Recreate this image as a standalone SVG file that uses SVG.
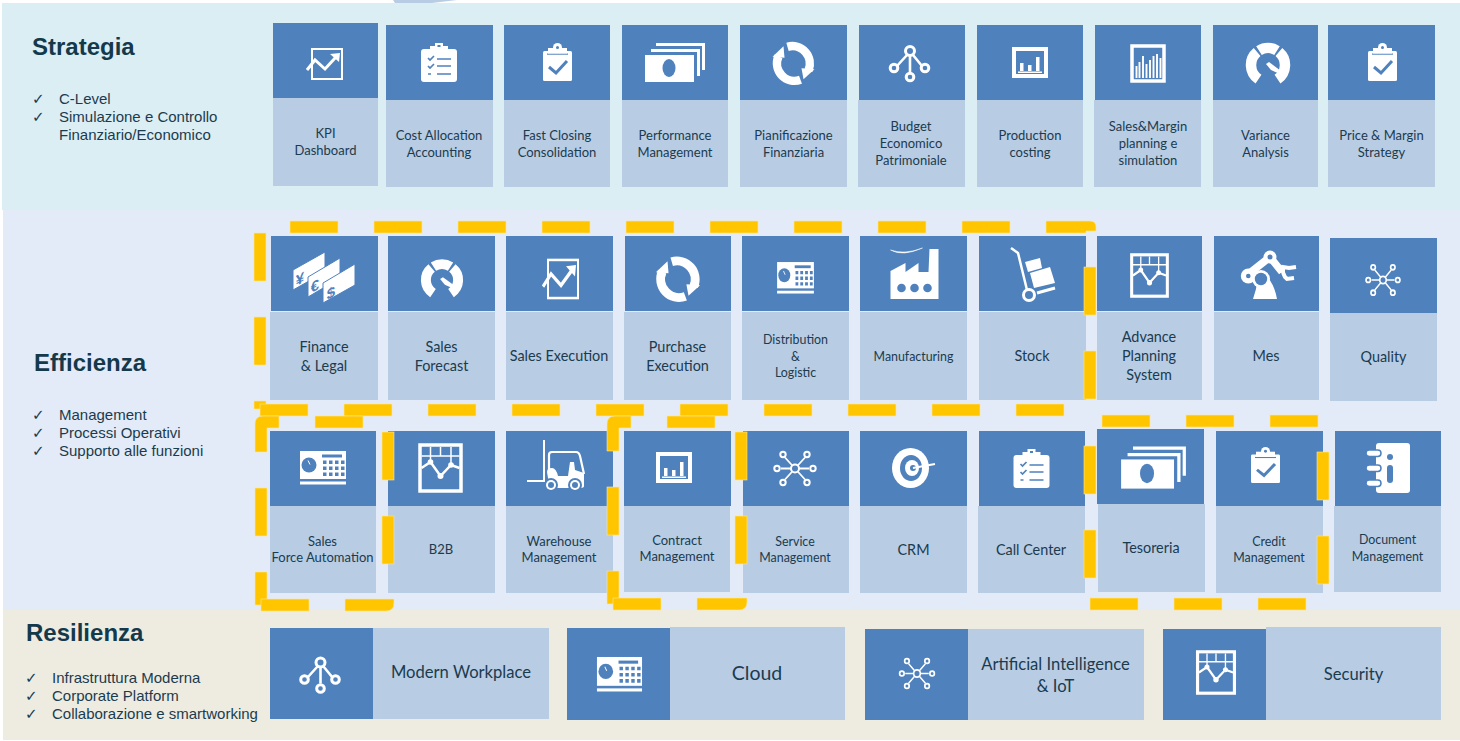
<svg xmlns="http://www.w3.org/2000/svg" xmlns:xlink="http://www.w3.org/1999/xlink" width="1460" height="741" viewBox="0 0 1460 741">
<style>
.h{fill:#4F81BD}.b{fill:#B8CCE4}
.d{fill:#FFC600;stroke:#FBE59A;stroke-width:.6}
text{fill:#1B3B4E}
.k{font-family:"Liberation Sans",Arial,sans-serif;font-weight:700;fill:#14394B}
.l{font-family:"Liberation Sans",Arial,sans-serif;font-size:15px}
.c{font-family:"DejaVu Sans",sans-serif;font-size:15px}
.t{font-family:Lato,"Open Sans",sans-serif;text-anchor:middle;font-size:13px}
.m{font-size:14.4px}.s{font-size:12.4px}.n{font-size:16.6px}.g{font-size:19.5px}
.w{fill:#fff}.u{fill:#4F81BD}
.ws{fill:none;stroke:#fff}.us{fill:none;stroke:#4F81BD}
.ic{font-family:"Liberation Sans",Arial,sans-serif;font-weight:700;font-size:15px;fill:#4F81BD;text-anchor:middle}
</style>
<defs>
<g id="i-chart"><rect class="ws" x="-12" y="-15" width="30" height="30" stroke-width="2"/><polyline class="ws" points="-17,6 -9,-4 1,5 12,-7" stroke-width="3"/><polygon class="w" points="6,-10 16,-11 15,-2"/></g>
<g id="i-cliplist"><rect class="w" x="-18" y="-14" width="36" height="33" rx="3"/><rect class="w" x="-9" y="-17" width="18" height="6"/><rect class="w" x="-4" y="-20" width="8" height="6"/><rect class="u" x="-1.5" y="-18" width="3" height="2"/><path class="us" d="M-2-4H12M-2 3H12M-2 11H12M-11-5l2 2 4-4M-11 3l2 2 4-4M-11 11h3" stroke-width="1.7"/></g>
<g id="i-clipcheck"><rect class="w" x="-15" y="-11" width="29" height="30" rx="1.5"/><rect class="u" x="-11" y="-8.500" width="21" height="1.200"/><rect class="w" x="-10" y="-14" width="19" height="5.500"/><circle class="w" cx="-.5" cy="-14.500" r="4.500"/><circle class="u" cx="-.5" cy="-14.500" r="1.500"/><polyline class="us" points="-9,5 -2,11 9,-1" stroke-width="3"/></g>
<g id="i-money"><path class="ws" d="M-19-17.500H28.500V8M-24-11.500H23.500V14" stroke-width="3"/><rect class="u" x="-31" y="-8" width="51" height="29"/><rect class="w" x="-30" y="-7" width="49" height="27"/><ellipse class="u" cx="-6" cy="6" rx="6.500" ry="9"/></g>
<g id="i-refresh"><path class="ws" d="M-6-16.500A17.500 17.500 0 0 1 15 7" stroke-width="8.500"/><polygon class="w" points="8,5 21,6 10,16"/><path class="ws" d="M7 16.500A17.500 17.500 0 0 1-15-7" stroke-width="8.500"/><polygon class="w" points="-21,-6.500 -9,-5.500 -10,-17"/></g>
<g id="i-tree"><path class="ws" d="M-3-8-13 3M3-8 12 3M0-7V9" stroke-width="2.600"/><g fill="#4F81BD" stroke="#fff" stroke-width="3"><circle cx="0" cy="-12" r="4.500"/><circle cx="-16" cy="5" r="3.800"/><circle cx="15" cy="5" r="3.800"/><circle cx="0" cy="14" r="3.800"/></g></g>
<g id="i-bars"><rect class="ws" x="-16" y="-13" width="32" height="27" stroke-width="4"/><path class="w" d="M-10 1h3.500v8h-3.500zM-2 3h3.500v6h-3.500zM6-5h3.500v14h-3.500zM-12 9.500h24v1.500h-24z"/></g>
<g id="i-dense"><rect class="ws" x="-16" y="-17" width="32" height="35" stroke-width="3.500"/><path class="ws" d="M-11.500 15V3M-8.500 15V-1M-5 15V-7M-1.500 15V1M2 15V-3M5.500 15V-7M9 15V-9M12.500 15V-5" stroke-width="1.900"/></g>
<g id="i-gauge"><path class="ws" d="M-10.900-13A17 17 0 0 0-9.500 14.100M-9-14.400A17 17 0 0 1 9-14.400M10.900-13A17 17 0 0 1 9.500 14.100" stroke-width="10.500"/><polygon class="w" points="-2,-1 1,-3 17,9 16,11 3,5"/></g>
<g id="i-calc"><rect class="w" x="-23" y="-17.500" width="46" height="28"/><rect class="w" x="-23" y="13" width="46" height="3"/><circle class="u" cx="-14" cy="-3.500" r="7.500"/><path class="ws" d="M-15-8-13-4" stroke-width="1"/><rect class="u" x="-1" y="-14" width="20" height="3"/><path class="u" d="M0-8h3.500v3.500h-3.500zM6-8h3.500v3.500h-3.500zM12-8h3.500v3.500h-3.500zM18-8h3.500v3.500h-3.500zM0-2h3.500v3.500h-3.500zM6-2h3.500v3.500h-3.500zM12-2h3.500v3.500h-3.500zM18-2h3.500v3.500h-3.500zM0 4h3.500v3.500h-3.500zM6 4h3.500v3.500h-3.500zM12 4h3.500v3.500h-3.500zM18 4h3.500v3.500h-3.500z"/></g>
<g id="i-grid"><rect class="ws" x="-20.500" y="-23" width="41" height="46" stroke-width="3.500"/><path class="ws" d="M-19-12H19M-10-21V-6M0-21V-12M10.500-21V-3" stroke-width="1.500"/><polyline class="ws" points="-19,0 -10,-6 0,8 10.500,-3 19,0" stroke-width="2.500"/><circle class="w" cx="-10" cy="-6" r="2.800"/><circle class="w" cx="0" cy="8" r="3"/><circle class="w" cx="10.500" cy="-3" r="2.800"/></g>
<g id="i-hub"><path class="ws" d="M-14 0H14M-10-11 10 11M10-11-10 11" stroke-width="1.800"/><g fill="#4F81BD" stroke="#fff" stroke-width="2"><circle cx="0" cy="0" r="4"/><circle cx="-18" cy="0" r="2.700"/><circle cx="18" cy="0" r="2.700"/><circle cx="-12" cy="-14" r="2.700"/><circle cx="12" cy="-14" r="2.700"/><circle cx="-12" cy="14" r="2.700"/><circle cx="12" cy="14" r="2.700"/></g></g>
</defs>

<g id="bands">
<polygon class="b" points="393,0 457,0 432,3 395,3"/>
<rect x="2" y="3" width="1458" height="207" fill="#DBEEF4"/>
<rect x="3" y="210" width="1457" height="400" fill="#E3EBF8"/>
<rect x="3" y="610" width="1457" height="130" fill="#EEECE1"/>
</g>

<g id="section-strategia">
<text class="k" x="32" y="55" font-size="24">Strategia</text>
<text class="c" x="32" y="104">✓</text><text class="l" x="59" y="104">C-Level</text>
<text class="c" x="32" y="122">✓</text><text class="l" x="59" y="122">Simulazione e Controllo</text>
<text class="l" x="59" y="140">Finanziario/Economico</text>
</g>
<g id="section-efficienza">
<text class="k" x="34" y="371" font-size="24">Efficienza</text>
<text class="c" x="32" y="420">✓</text><text class="l" x="59" y="420">Management</text>
<text class="c" x="32" y="438">✓</text><text class="l" x="59" y="438">Processi Operativi</text>
<text class="c" x="32" y="456">✓</text><text class="l" x="59" y="456">Supporto alle funzioni</text>
</g>
<g id="section-resilienza">
<text class="k" x="26" y="641" font-size="24">Resilienza</text>
<text class="c" x="25" y="683">✓</text><text class="l" x="52" y="683">Infrastruttura Moderna</text>
<text class="c" x="25" y="701">✓</text><text class="l" x="52" y="701">Corporate Platform</text>
<text class="c" x="25" y="719">✓</text><text class="l" x="52" y="719">Collaborazione e smartworking</text>
</g>

<g id="kpi-dashboard"><rect class="h" x="273" y="23" width="105" height="75"/><rect class="b" x="273" y="98" width="105" height="88"/><use href="#i-chart" transform="translate(324 64)"/><text class="t" x="325.500" y="138">KPI</text><text class="t" x="325.500" y="155">Dashboard</text></g>
<g id="cost-allocation"><rect class="h" x="386" y="25" width="107" height="75"/><rect class="b" x="386" y="100" width="107" height="87"/><use href="#i-cliplist" transform="translate(439 63)"/><text class="t" x="439" y="140">Cost Allocation</text><text class="t" x="439" y="157">Accounting</text></g>
<g id="fast-closing"><rect class="h" x="504" y="25" width="106" height="75"/><rect class="b" x="504" y="100" width="106" height="87"/><use href="#i-clipcheck" transform="translate(558 62)"/><text class="t" x="557" y="140">Fast Closing</text><text class="t" x="557" y="157">Consolidation</text></g>
<g id="performance"><rect class="h" x="622" y="25" width="106" height="75"/><rect class="b" x="622" y="100" width="106" height="87"/><use href="#i-money" transform="translate(675 62)"/><text class="t" x="675" y="140">Performance</text><text class="t" x="675" y="157">Management</text></g>
<g id="pianificazione"><rect class="h" x="740" y="25" width="107" height="75"/><rect class="b" x="740" y="100" width="107" height="87"/><use href="#i-refresh" transform="translate(793.500 63.300)"/><text class="t" x="793.500" y="140">Pianificazione</text><text class="t" x="793.500" y="157">Finanziaria</text></g>
<g id="budget"><rect class="h" x="859" y="25" width="106" height="75"/><rect class="b" x="858" y="100" width="107" height="87"/><use href="#i-tree" transform="translate(910 63)"/><text class="t" x="911" y="131">Budget</text><text class="t" x="911" y="148">Economico</text><text class="t" x="911" y="165">Patrimoniale</text></g>
<g id="production-costing"><rect class="h" x="977" y="25" width="106" height="75"/><rect class="b" x="977" y="100" width="106" height="87"/><use href="#i-bars" transform="translate(1030 62)"/><text class="t" x="1030" y="140">Production</text><text class="t" x="1030" y="157">costing</text></g>
<g id="sales-margin"><rect class="h" x="1095" y="25" width="106" height="75"/><rect class="b" x="1094" y="100" width="107" height="87"/><use href="#i-dense" transform="translate(1148 63)"/><text class="t" x="1148" y="131">Sales&amp;Margin</text><text class="t" x="1148" y="148">planning e</text><text class="t" x="1148" y="165">simulation</text></g>
<g id="variance"><rect class="h" x="1213" y="25" width="105" height="75"/><rect class="b" x="1213" y="100" width="105" height="87"/><use href="#i-gauge" transform="translate(1268 65)"/><text class="t" x="1265.500" y="140">Variance</text><text class="t" x="1265.500" y="157">Analysis</text></g>
<g id="price-margin"><rect class="h" x="1328" y="25" width="107" height="75"/><rect class="b" x="1328" y="100" width="107" height="87"/><use href="#i-clipcheck" transform="translate(1383 62)"/><text class="t" x="1381.500" y="140">Price &amp; Margin</text><text class="t" x="1381.500" y="157">Strategy</text></g>

<g id="finance-legal"><rect class="h" x="271" y="236" width="107" height="75"/><rect class="b" x="270" y="312" width="108" height="88"/>
<g fill="#fff" stroke="#4F81BD" stroke-width="1"><polygon points="293,270 325,252 325,272 293,290"/><polygon points="308,277 340,258 340,278 308,297"/><polygon points="323,283 355,264 355,285 323,303"/></g>
<text class="ic" transform="translate(300 284) skewY(-28)">¥</text><text class="ic" transform="translate(315 291) skewY(-28)">€</text><text class="ic" transform="translate(331 298) skewY(-28)">$</text>
<text class="t m" x="324" y="352">Finance</text><text class="t m" x="324" y="371">&amp; Legal</text></g>
<g id="sales-forecast"><rect class="h" x="388" y="236" width="107" height="75"/><rect class="b" x="388" y="312" width="107" height="88"/><use href="#i-gauge" transform="translate(442 280) scale(.95 .93)"/><text class="t m" x="441.500" y="352">Sales</text><text class="t m" x="441.500" y="371">Forecast</text></g>
<g id="sales-execution"><rect class="h" x="506" y="236" width="107" height="75"/><rect class="b" x="506" y="312" width="107" height="88"/><use href="#i-chart" transform="translate(560 279) scale(1 1.270)"/><text class="t m" x="559" y="361">Sales Execution</text></g>
<g id="purchase-execution"><rect class="h" x="625" y="236" width="106" height="75"/><rect class="b" x="624" y="312" width="107" height="88"/><use href="#i-refresh" transform="translate(678 279) scale(1.050)"/><text class="t m" x="677.500" y="352">Purchase</text><text class="t m" x="677.500" y="371">Execution</text></g>
<g id="distribution"><rect class="h" x="742" y="236" width="107" height="75"/><rect class="b" x="742" y="312" width="107" height="88"/><use href="#i-calc" transform="translate(795.500 278.500) scale(.8 .94)"/><text class="t s" x="795.500" y="344">Distribution</text><text class="t s" x="795.500" y="361">&amp;</text><text class="t s" x="795.500" y="377">Logistic</text></g>
<g id="manufacturing"><rect class="h" x="860" y="236" width="107" height="75"/><rect class="b" x="860" y="312" width="107" height="88"/>
<g transform="translate(914.500 274)"><polygon class="w" points="-24,25 -24,-3 -9,-11 -9,-2 4,-11 4,-2 14,-2 15,-25 24,-25 24,25"/><circle class="u" cx="-13" cy="14" r="4.300"/><circle class="u" cx="0" cy="14" r="4.300"/><circle class="u" cx="13" cy="14" r="4.300"/><path class="w" d="M-24-24Q-12-17 8-26Q-10-19-24-24Z" stroke="#fff" stroke-width=".5"/></g>
<text class="t s" x="913.500" y="361">Manufacturing</text></g>
<g id="stock"><rect class="h" x="979" y="236" width="107" height="75"/><rect class="b" x="979" y="312" width="107" height="88"/>
<g><path class="ws" d="M1011 248 1018 253 1027 290" stroke-width="2.500"/><circle class="ws" cx="1029" cy="295" r="5.500" stroke-width="3"/><polygon class="w" points="1025,262 1040,258 1042,268 1028,272"/><polygon class="w" points="1030,273 1050,267 1055,283 1034,288"/><path class="ws" d="M1037 293 1055 288" stroke-width="3"/></g>
<text class="t m" x="1032" y="361">Stock</text></g>
<g id="advance-planning"><rect class="h" x="1097" y="236" width="105" height="75"/><rect class="b" x="1097" y="312" width="105" height="88"/><use href="#i-grid" transform="translate(1149.500 275.500) scale(.87 .9)"/><text class="t m" x="1149" y="342">Advance</text><text class="t m" x="1149" y="361">Planning</text><text class="t m" x="1149" y="380">System</text></g>
<g id="mes"><rect class="h" x="1214" y="236" width="105" height="75"/><rect class="b" x="1214" y="312" width="105" height="88"/>
<g transform="translate(1269 275)"><path class="w" d="M-16 24-13 14Q-12 8-14 6L0 4Q6 12 8 24Z"/><path class="ws" d="M-18-3 1-18 13-3" stroke-width="7.500" stroke-linejoin="round"/><circle class="w" cx="-20.700" cy="1" r="7.500"/><circle class="u" cx="-20.700" cy="1" r="2.300"/><circle class="w" cx="-8" cy="4" r="9"/><circle class="u" cx="-8" cy="4" r="6.200"/><circle class="w" cx="1" cy="-18" r="6.500"/><circle class="u" cx="1" cy="-18" r="2.500"/><path class="ws" d="M27-8 20-7 14-8Q13-3 16 2L18 4 25 3" stroke-width="4"/></g>
<text class="t m" x="1266" y="361">Mes</text></g>
<g id="quality"><rect class="h" x="1330" y="238" width="107" height="75"/><rect class="b" x="1330" y="313" width="107" height="88"/><use href="#i-hub" transform="translate(1383 280) scale(.82 .91)"/><text class="t m" x="1383.500" y="362">Quality</text></g>

<g id="sales-force"><rect class="h" x="270" y="431" width="106" height="75"/><rect class="b" x="270" y="506" width="106" height="87"/><use href="#i-calc" transform="translate(323 468.500)"/><text class="t" x="322.500" y="546">Sales</text><text class="t" x="322.500" y="562">Force Automation</text></g>
<g id="b2b"><rect class="h" x="388" y="431" width="107" height="75"/><rect class="b" x="388" y="506" width="107" height="87"/><use href="#i-grid" transform="translate(440.500 468)"/><text class="t" x="441" y="554">B2B</text></g>
<g id="warehouse"><rect class="h" x="506" y="431" width="107" height="75"/><rect class="b" x="506" y="506" width="107" height="87"/>
<g><path class="ws" d="M544 440V481H527" stroke-width="2"/><path class="ws" d="M549 470V455Q549 452 552 452H576Q579 452 580 456L584 474" stroke-width="2.200"/><path class="w" d="M547 472Q547 468 552 468Q556 468 558 476H568L570 462H574L575 470 584 473V486Q584 488 580 488H548V478Z"/><circle class="u" cx="551" cy="485" r="7"/><circle class="w" cx="551" cy="485" r="5"/><circle class="u" cx="575" cy="485" r="7"/><circle class="w" cx="575" cy="485" r="5"/><circle class="u" cx="551" cy="485" r="3"/><circle class="u" cx="575" cy="485" r="3"/></g>
<text class="t" x="559" y="546">Warehouse</text><text class="t" x="559" y="562">Management</text></g>
<g id="contract"><rect class="h" x="624" y="431" width="107" height="75"/><rect class="b" x="624" y="506" width="106" height="86"/><use href="#i-bars" transform="translate(674 467)"/><text class="t" x="677" y="545">Contract</text><text class="t" x="677" y="561">Management</text></g>
<g id="service"><rect class="h" x="743" y="431" width="106" height="75"/><rect class="b" x="743" y="506" width="106" height="87"/><use href="#i-hub" transform="translate(795 468.500)"/><text class="t s" x="795" y="546">Service</text><text class="t s" x="795" y="562">Management</text></g>
<g id="crm"><rect class="h" x="860" y="431" width="107" height="75"/><rect class="b" x="860" y="506" width="107" height="87"/>
<g><ellipse class="w" cx="910.500" cy="468" rx="18.500" ry="20"/><ellipse class="u" cx="911" cy="468" rx="11" ry="13"/><ellipse class="w" cx="912" cy="468" rx="7" ry="8"/><circle class="u" cx="913" cy="468" r="3"/><path class="ws" d="M913 468 935 464" stroke-width="1.800"/></g>
<text class="t m" x="913.500" y="555">CRM</text></g>
<g id="call-center"><rect class="h" x="979" y="431" width="106" height="75"/><rect class="b" x="978" y="506" width="107" height="87"/><use href="#i-cliplist" transform="translate(1031.500 469)"/><text class="t m" x="1031" y="555">Call Center</text></g>
<g id="tesoreria"><rect class="h" x="1097" y="429" width="107" height="75"/><rect class="b" x="1098" y="504" width="107" height="88"/><use href="#i-money" transform="translate(1153.500 467) scale(1.080)"/><text class="t m" x="1151" y="553">Tesoreria</text></g>
<g id="credit"><rect class="h" x="1216" y="431" width="107" height="75"/><rect class="b" x="1216" y="506" width="107" height="87"/><use href="#i-clipcheck" transform="translate(1266 465) scale(1 .95)"/><text class="t s" x="1269" y="546">Credit</text><text class="t s" x="1269" y="562">Management</text></g>
<g id="document"><rect class="h" x="1335" y="431" width="106" height="75"/><rect class="b" x="1334" y="506" width="107" height="86"/>
<g><rect class="w" x="1376" y="443" width="34" height="50" rx="3"/><g fill="#fff" stroke="#4F81BD" stroke-width="1.500"><rect x="1366" y="450" width="15" height="6.500" rx="3.200"/><rect x="1366" y="465" width="15" height="6.500" rx="3.200"/><rect x="1366" y="480" width="15" height="6.500" rx="3.200"/></g><circle class="u" cx="1390" cy="457" r="3"/><rect class="u" x="1387" y="465" width="6" height="18" rx="3"/></g>
<text class="t s" x="1387.500" y="544">Document</text><text class="t s" x="1387.500" y="561">Management</text></g>

<g id="modern-workplace"><rect class="h" x="270" y="628" width="103" height="91"/><rect class="b" x="373" y="628" width="176" height="91"/><use href="#i-tree" transform="translate(320.500 674.500)"/><text class="t n" x="461" y="678">Modern Workplace</text></g>
<g id="cloud"><rect class="h" x="567" y="628" width="103" height="92"/><rect class="b" x="670" y="627" width="175" height="93"/><use href="#i-calc" transform="translate(619.500 675) scale(.98 1.030)"/><text class="t g" x="757" y="680">Cloud</text></g>
<g id="ai-iot"><rect class="h" x="865" y="629" width="103" height="91"/><rect class="b" x="968" y="629" width="176" height="91"/><use href="#i-hub" transform="translate(917 673.500) scale(.84 .89)"/><text class="t n" x="1055.500" y="670">Artificial Intelligence</text><text class="t n" x="1055.500" y="692">&amp; IoT</text></g>
<g id="security"><rect class="h" x="1163" y="629" width="103" height="91"/><rect class="b" x="1266" y="627" width="175" height="93"/><use href="#i-grid" transform="translate(1216 672.500) scale(.9)"/><text class="t n" x="1353.500" y="680">Security</text></g>

<g id="connectors">
<g id="dash-box-1">
<rect class="d" x="290" y="221" width="48" height="12"/><rect class="d" x="374" y="221" width="48" height="12"/><rect class="d" x="458" y="221" width="48" height="12"/><rect class="d" x="542" y="221" width="48" height="12"/><rect class="d" x="626" y="221" width="48" height="12"/><rect class="d" x="710" y="221" width="48" height="12"/><rect class="d" x="794" y="221" width="48" height="12"/><rect class="d" x="878" y="221" width="48" height="12"/><rect class="d" x="962" y="221" width="48" height="12"/>
<path class="d" d="M1046 221H1090Q1096 221 1096 227V231H1086V233H1046Z"/>
<rect class="d" x="254" y="233" width="12" height="48"/><rect class="d" x="254" y="317" width="12" height="48"/><rect class="d" x="254" y="401" width="12" height="8"/>
<rect class="d" x="1084" y="267" width="12" height="48"/><rect class="d" x="1084" y="351" width="12" height="48"/>
<rect class="d" x="260" y="404" width="48" height="12"/><rect class="d" x="344" y="404" width="48" height="12"/><rect class="d" x="428" y="404" width="48" height="12"/><rect class="d" x="512" y="404" width="48" height="12"/><rect class="d" x="596" y="404" width="48" height="12"/><rect class="d" x="680" y="404" width="48" height="12"/><rect class="d" x="764" y="404" width="48" height="12"/><rect class="d" x="848" y="404" width="48" height="12"/><rect class="d" x="932" y="404" width="48" height="12"/><rect class="d" x="1016" y="404" width="48" height="12"/>
</g>
<g id="dash-box-2">
<path class="d" d="M255 452V424Q255 416 263 416H279V428H267V452Z"/><rect class="d" x="315" y="416" width="48" height="12"/>
<rect class="d" x="255" y="488" width="12" height="48"/><rect class="d" x="255" y="572" width="12" height="33"/>
<rect class="d" x="261" y="599" width="48" height="12"/><path class="d" d="M345 599H394V603Q394 611 386 611H345Z"/>
<rect class="d" x="382" y="432" width="12" height="48"/><rect class="d" x="382" y="516" width="12" height="48"/>
</g>
<g id="dash-box-3">
<path class="d" d="M607 451V424Q607 416 615 416H631V428H619V451Z"/><rect class="d" x="667" y="416" width="48" height="12"/>
<rect class="d" x="607" y="487" width="12" height="48"/><rect class="d" x="607" y="571" width="12" height="33"/>
<rect class="d" x="613" y="598" width="48" height="12"/><path class="d" d="M697 598H747V602Q747 610 739 610H697Z"/>
<rect class="d" x="735" y="432" width="12" height="48"/><rect class="d" x="735" y="516" width="12" height="48"/>
</g>
<g id="dash-box-4">
<rect class="d" x="1102" y="415" width="48" height="12"/><rect class="d" x="1186" y="415" width="48" height="12"/><rect class="d" x="1270" y="415" width="48" height="12"/>
<rect class="d" x="1084" y="446" width="12" height="48"/><rect class="d" x="1084" y="530" width="12" height="48"/>
<rect class="d" x="1317" y="452" width="12" height="48"/><rect class="d" x="1317" y="536" width="12" height="48"/>
<rect class="d" x="1090" y="598" width="48" height="12"/><rect class="d" x="1174" y="598" width="48" height="12"/><rect class="d" x="1258" y="598" width="48" height="12"/>
</g>
</g>
</svg>
